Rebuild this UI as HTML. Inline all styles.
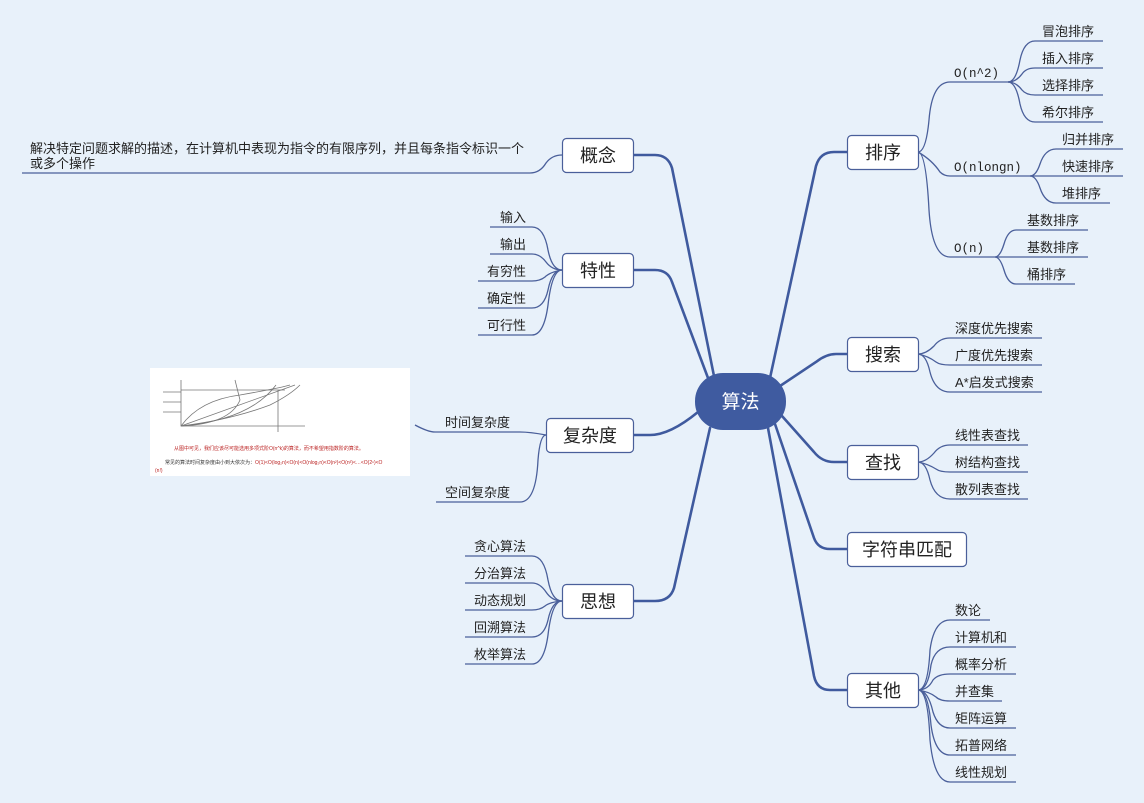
<!DOCTYPE html>
<html><head><meta charset="utf-8"><style>
html,body{margin:0;padding:0;background:#e8f1fa;}
svg{display:block;font-family:"Liberation Sans","Noto Sans CJK SC",sans-serif;}
.t{font-size:13px;fill:#222;}
.m{font-size:18px;fill:#222;text-anchor:middle;}
.mono{font-family:"Liberation Mono","Noto Sans CJK SC",monospace;font-size:12.5px;fill:#222;}
</style></head><body>
<svg width="1144" height="803" viewBox="0 0 1144 803">
<g fill="none" stroke="#3f5a9e" stroke-width="2.6" stroke-linecap="round">
<path d="M770 378 L816 166 Q820 152 834 152 L847 152"/>
<path d="M780 386 L816 362 Q826 354 836 354 L847 354"/>
<path d="M782 416 L814 452 Q822 462 834 462 L847 462"/>
<path d="M775 424 L814 538 Q818 549 830 549 L847 549"/>
<path d="M768 428 L814 676 Q817 690 830 690 L847 690"/>
<path d="M714 376 L672 168 Q668 155 655 155 L633 155"/>
<path d="M708 378 L672 282 Q668 270 655 270 L633 270"/>
<path d="M698 412 Q670 435 650 435 L633 435"/>
<path d="M710 428 L674 588 Q670 601 655 601 L633 601"/>
</g>
<g fill="none" stroke="#4a5f9a" stroke-width="1.3">
<path d="M918 152 Q926 152 929 120 Q932 82 950 82 L1008 82"/>
<path d="M918 152 Q932 160 940 172 Q944 176 950 176 L1030 176"/>
<path d="M918 152 Q926 152 929 210 Q932 257 950 257 L995 257"/>
<path d="M1008 82 Q1016 82 1020 60 Q1024 41 1035 41 L1103 41"/>
<path d="M1008 82 Q1016 82 1022 74 Q1026 68 1035 68 L1103 68"/>
<path d="M1008 82 Q1016 82 1022 90 Q1026 95 1035 95 L1103 95"/>
<path d="M1008 82 Q1016 82 1020 104 Q1024 122 1035 122 L1103 122"/>
<path d="M1030 176 Q1036 176 1040 164 Q1045 149 1056 149 L1123 149"/>
<path d="M1030 176 L1123 176"/>
<path d="M1030 176 Q1036 176 1040 188 Q1045 203 1056 203 L1110 203"/>
<path d="M995 257 Q1000 257 1004 244 Q1008 230 1016 230 L1088 230"/>
<path d="M995 257 L1088 257"/>
<path d="M995 257 Q1000 257 1004 270 Q1008 284 1016 284 L1075 284"/>
<path d="M918 354 Q926 354 934 346 Q940 338 950 338 L1042 338"/>
<path d="M918 354 Q928 356 936 362 Q940 365 950 365 L1042 365"/>
<path d="M918 354 Q926 354 930 372 Q935 392 950 392 L1042 392"/>
<path d="M918 462 Q926 462 934 453 Q940 445 950 445 L1028 445"/>
<path d="M918 462 Q928 464 936 469 Q940 472 950 472 L1028 472"/>
<path d="M918 462 Q926 462 930 480 Q935 499 950 499 L1028 499"/>
<path d="M918 690 Q928 690 930 650 Q934 620 950 620 L990 620"/>
<path d="M918 690 Q928 690 931 665 Q935 647 950 647 L1016 647"/>
<path d="M918 690 Q928 690 933 680 Q938 674 950 674 L1016 674"/>
<path d="M918 690 Q930 692 936 697 Q940 701 950 701 L1002 701"/>
<path d="M918 690 Q928 690 933 712 Q938 728 950 728 L1016 728"/>
<path d="M918 690 Q928 690 931 725 Q935 755 950 755 L1016 755"/>
<path d="M918 690 Q928 690 930 740 Q934 782 950 782 L1016 782"/>
<path d="M562 155 Q552 155 546 163 Q540 173 530 173 L22 173"/>
<path d="M562 270 Q552 270 548 250 Q544 227 532 227 L490 227"/>
<path d="M562 270 Q552 270 546 262 Q540 254 532 254 L490 254"/>
<path d="M562 270 Q550 272 545 277 Q540 281 532 281 L478 281"/>
<path d="M562 270 Q552 270 548 290 Q544 308 532 308 L478 308"/>
<path d="M562 270 Q552 270 548 305 Q544 335 532 335 L478 335"/>
<path d="M546 435 Q530 432 520 432 L435 432 Q428 432 415 425"/>
<path d="M546 435 Q540 435 538 460 Q536 502 520 502 L436 502"/>
<path d="M562 601 Q552 601 548 580 Q544 556 532 556 L465 556"/>
<path d="M562 601 Q552 601 546 592 Q540 583 532 583 L465 583"/>
<path d="M562 601 Q550 602 545 606 Q540 610 532 610 L465 610"/>
<path d="M562 601 Q552 601 548 620 Q544 637 532 637 L465 637"/>
<path d="M562 601 Q552 601 548 635 Q544 664 532 664 L465 664"/>
</g>
<rect x="695" y="373" width="91" height="57" rx="28" fill="#3f5ba0"/>
<text x="740.5" y="408" class="m" style="fill:#fff;font-size:19px">算法</text>
<g fill="#fff" stroke="#4a5f9a" stroke-width="1.2">
<rect x="847.5" y="135.5" width="71" height="34" rx="4"/>
<rect x="847.5" y="337.5" width="71" height="34" rx="4"/>
<rect x="847.5" y="445.5" width="71" height="34" rx="4"/>
<rect x="847.5" y="532.5" width="119" height="34" rx="4"/>
<rect x="847.5" y="673.5" width="71" height="34" rx="4"/>
<rect x="562.5" y="138.5" width="71" height="34" rx="4"/>
<rect x="562.5" y="253.5" width="71" height="34" rx="4"/>
<rect x="546.5" y="418.5" width="87" height="34" rx="4"/>
<rect x="562.5" y="584.5" width="71" height="34" rx="4"/>
</g>
<text x="883" y="159" class="m">排序</text>
<text x="883" y="361" class="m">搜索</text>
<text x="883" y="469" class="m">查找</text>
<text x="907" y="556" class="m">字符串匹配</text>
<text x="883" y="697" class="m">其他</text>
<text x="598" y="162" class="m">概念</text>
<text x="598" y="277" class="m">特性</text>
<text x="590" y="442" class="m">复杂度</text>
<text x="598" y="608" class="m">思想</text>
<text x="954" y="77" class="mono">O(n^2)</text>
<text x="954" y="171" class="mono">O(nlongn)</text>
<text x="954" y="252" class="mono">O(n)</text>
<text x="1042" y="36" class="t">冒泡排序</text>
<text x="1042" y="63" class="t">插入排序</text>
<text x="1042" y="90" class="t">选择排序</text>
<text x="1042" y="117" class="t">希尔排序</text>
<text x="1062" y="144" class="t">归并排序</text>
<text x="1062" y="171" class="t">快速排序</text>
<text x="1062" y="198" class="t">堆排序</text>
<text x="1027" y="225" class="t">基数排序</text>
<text x="1027" y="252" class="t">基数排序</text>
<text x="1027" y="279" class="t">桶排序</text>
<text x="955" y="333" class="t">深度优先搜索</text>
<text x="955" y="360" class="t">广度优先搜索</text>
<text x="955" y="387" class="t">A*启发式搜索</text>
<text x="955" y="440" class="t">线性表查找</text>
<text x="955" y="467" class="t">树结构查找</text>
<text x="955" y="494" class="t">散列表查找</text>
<text x="955" y="615" class="t">数论</text>
<text x="955" y="642" class="t">计算机和</text>
<text x="955" y="669" class="t">概率分析</text>
<text x="955" y="696" class="t">并查集</text>
<text x="955" y="723" class="t">矩阵运算</text>
<text x="955" y="750" class="t">拓普网络</text>
<text x="955" y="777" class="t">线性规划</text>
<text x="30" y="153" class="t">解决特定问题求解的描述，在计算机中表现为指令的有限序列，并且每条指令标识一个</text>
<text x="30" y="168" class="t">或多个操作</text>
<text x="500" y="222" class="t">输入</text>
<text x="500" y="249" class="t">输出</text>
<text x="487" y="276" class="t">有穷性</text>
<text x="487" y="303" class="t">确定性</text>
<text x="487" y="330" class="t">可行性</text>
<text x="445" y="427" class="t">时间复杂度</text>
<text x="445" y="497" class="t">空间复杂度</text>
<text x="474" y="551" class="t">贪心算法</text>
<text x="474" y="578" class="t">分治算法</text>
<text x="474" y="605" class="t">动态规划</text>
<text x="474" y="632" class="t">回溯算法</text>
<text x="474" y="659" class="t">枚举算法</text>
<rect x="150" y="368" width="260" height="108" fill="#fff"/>
<g fill="none" stroke="#777" stroke-width="0.8">
<path d="M181 380 L181 426 L305 426"/>
<path d="M181 390 L285 390"/>
<path d="M181 426 Q200 400 240 395 Q280 388 290 385"/>
<path d="M181 426 L295 385"/>
<path d="M181 426 Q230 420 270 405 Q290 395 300 385"/>
<path d="M181 426 Q230 424 240 400 L235 380"/>
<path d="M181 426 Q250 420 276 385"/>
<path d="M278 390 L278 432"/>
<path d="M163 392 L181 392 M163 402 L181 402 M163 412 L181 412"/>
</g>
<text x="174" y="450" style="font-size:5px;fill:#b22">从图中可见，我们应该尽可能选用多项式阶O(n^k)的算法，而不希望用指数阶的算法。</text>
<text x="165" y="464" style="font-size:5px;fill:#333">常见的算法时间复杂度由小到大依次为：<tspan fill="#b22">O(1)&lt;O(log₂n)&lt;O(n)&lt;O(nlog₂n)&lt;O(n²)&lt;O(n³)&lt;…&lt;O(2ⁿ)&lt;O</tspan></text>
<text x="155" y="472" style="font-size:5px;fill:#b22">(n!)</text>
</svg>
</body></html>
